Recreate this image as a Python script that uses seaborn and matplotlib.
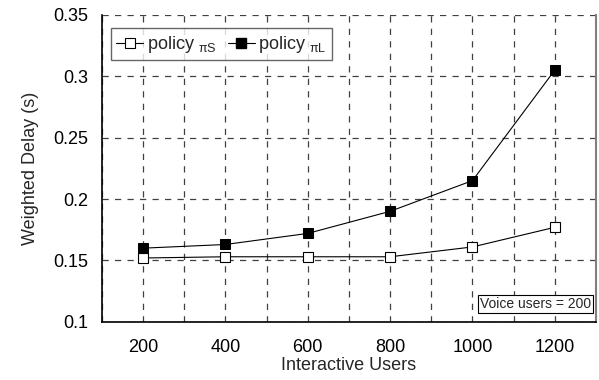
import numpy as np
import pandas as pd
import matplotlib
matplotlib.use("Agg")
import matplotlib.pyplot as plt
import seaborn as sns

# data
users = [200, 400, 600, 800, 1000, 1200]
delay_pi_s = [0.152, 0.153, 0.153, 0.153, 0.161, 0.177]
delay_pi_l = [0.160, 0.163, 0.172, 0.190, 0.215, 0.305]
series_names = ["policy $_{\\pi S}$", "policy $_{\\pi L}$"]

df = pd.DataFrame({
    "users": users * 2,
    "delay": delay_pi_s + delay_pi_l,
    "policy": [series_names[0]] * len(users) + [series_names[1]] * len(users),
})

sns.set_style("white")
plt.rcParams['font.family'] = ['Liberation Sans', 'DejaVu Sans']
plt.rcParams['mathtext.fontset'] = 'custom'
plt.rcParams['mathtext.rm'] = 'Liberation Sans'
plt.rcParams['mathtext.it'] = 'Liberation Sans'

fig = plt.figure(figsize=(5.99, 3.8), dpi=100)
ax = fig.add_axes([0.170, 0.153, 0.825, 0.808])

sns.lineplot(data=df, x="users", y="delay", hue="policy", style="policy",
             palette=["black", "black"], markers=["s", "s"], dashes=False,
             linewidth=0.8, markersize=7, ax=ax, legend=False)

# fill markers: white for pi S, black for pi L
lines = ax.get_lines()
lines[0].set_markerfacecolor("white")
lines[0].set_markeredgecolor("black")
lines[0].set_markeredgewidth(0.8)
lines[1].set_markerfacecolor("black")
lines[1].set_markeredgecolor("black")

ax.set_xlim(100, 1300)
ax.set_ylim(0.1, 0.35)
ax.set_xticks([100, 200, 300, 400, 500, 600, 700, 800, 900, 1000, 1100, 1200, 1300])
ax.set_xticklabels(["", "200", "", "400", "", "600", "", "800", "", "1000", "", "1200", ""])
ax.set_yticks([0.1, 0.15, 0.2, 0.25, 0.3, 0.35])
ax.set_yticklabels(["0.1", "0.15", "0.2", "0.25", "0.3", "0.35"])
ax.tick_params(axis="both", direction="inout", length=8, width=1, labelsize=13,
               color="black", labelcolor="black")
ax.tick_params(axis="y", pad=6)
ax.tick_params(axis="x", pad=8)

ax.grid(True, which="major", linestyle=(0, (5, 5)), color="#404040", linewidth=0.9)
ax.set_axisbelow(True)

ax.spines["top"].set_visible(False)
ax.spines["right"].set_color("#808080")
ax.spines["right"].set_linewidth(1.5)
ax.spines["left"].set_color("black")
ax.spines["bottom"].set_color("black")
ax.spines["left"].set_linewidth(1.2)
ax.spines["bottom"].set_linewidth(1.2)

ax.set_xlabel("Interactive Users", fontsize=13, labelpad=1)
ax.set_ylabel("Weighted Delay (s)", fontsize=13, labelpad=10)

handles = [
    plt.Line2D([], [], color="black", marker="s", markerfacecolor="white",
               markersize=7, linewidth=0.8, markeredgewidth=0.8),
    plt.Line2D([], [], color="black", marker="s", markerfacecolor="black",
               markersize=7, linewidth=0.8),
]
leg = ax.legend(handles, series_names, loc="upper left", ncol=2, fontsize=13,
                frameon=True, fancybox=False, edgecolor="#404040",
                handlelength=1.5, handletextpad=0.2, columnspacing=0.6,
                borderpad=0.3, bbox_to_anchor=(0.0, 0.985))
leg.get_frame().set_linewidth(1.0)

ax.text(0.99, 0.035, "Voice users = 200", transform=ax.transAxes,
        ha="right", va="bottom", fontsize=10,
        bbox=dict(boxstyle="square,pad=0.15", facecolor="white", edgecolor="black", linewidth=0.8))

fig.savefig("out.png", dpi=100)
